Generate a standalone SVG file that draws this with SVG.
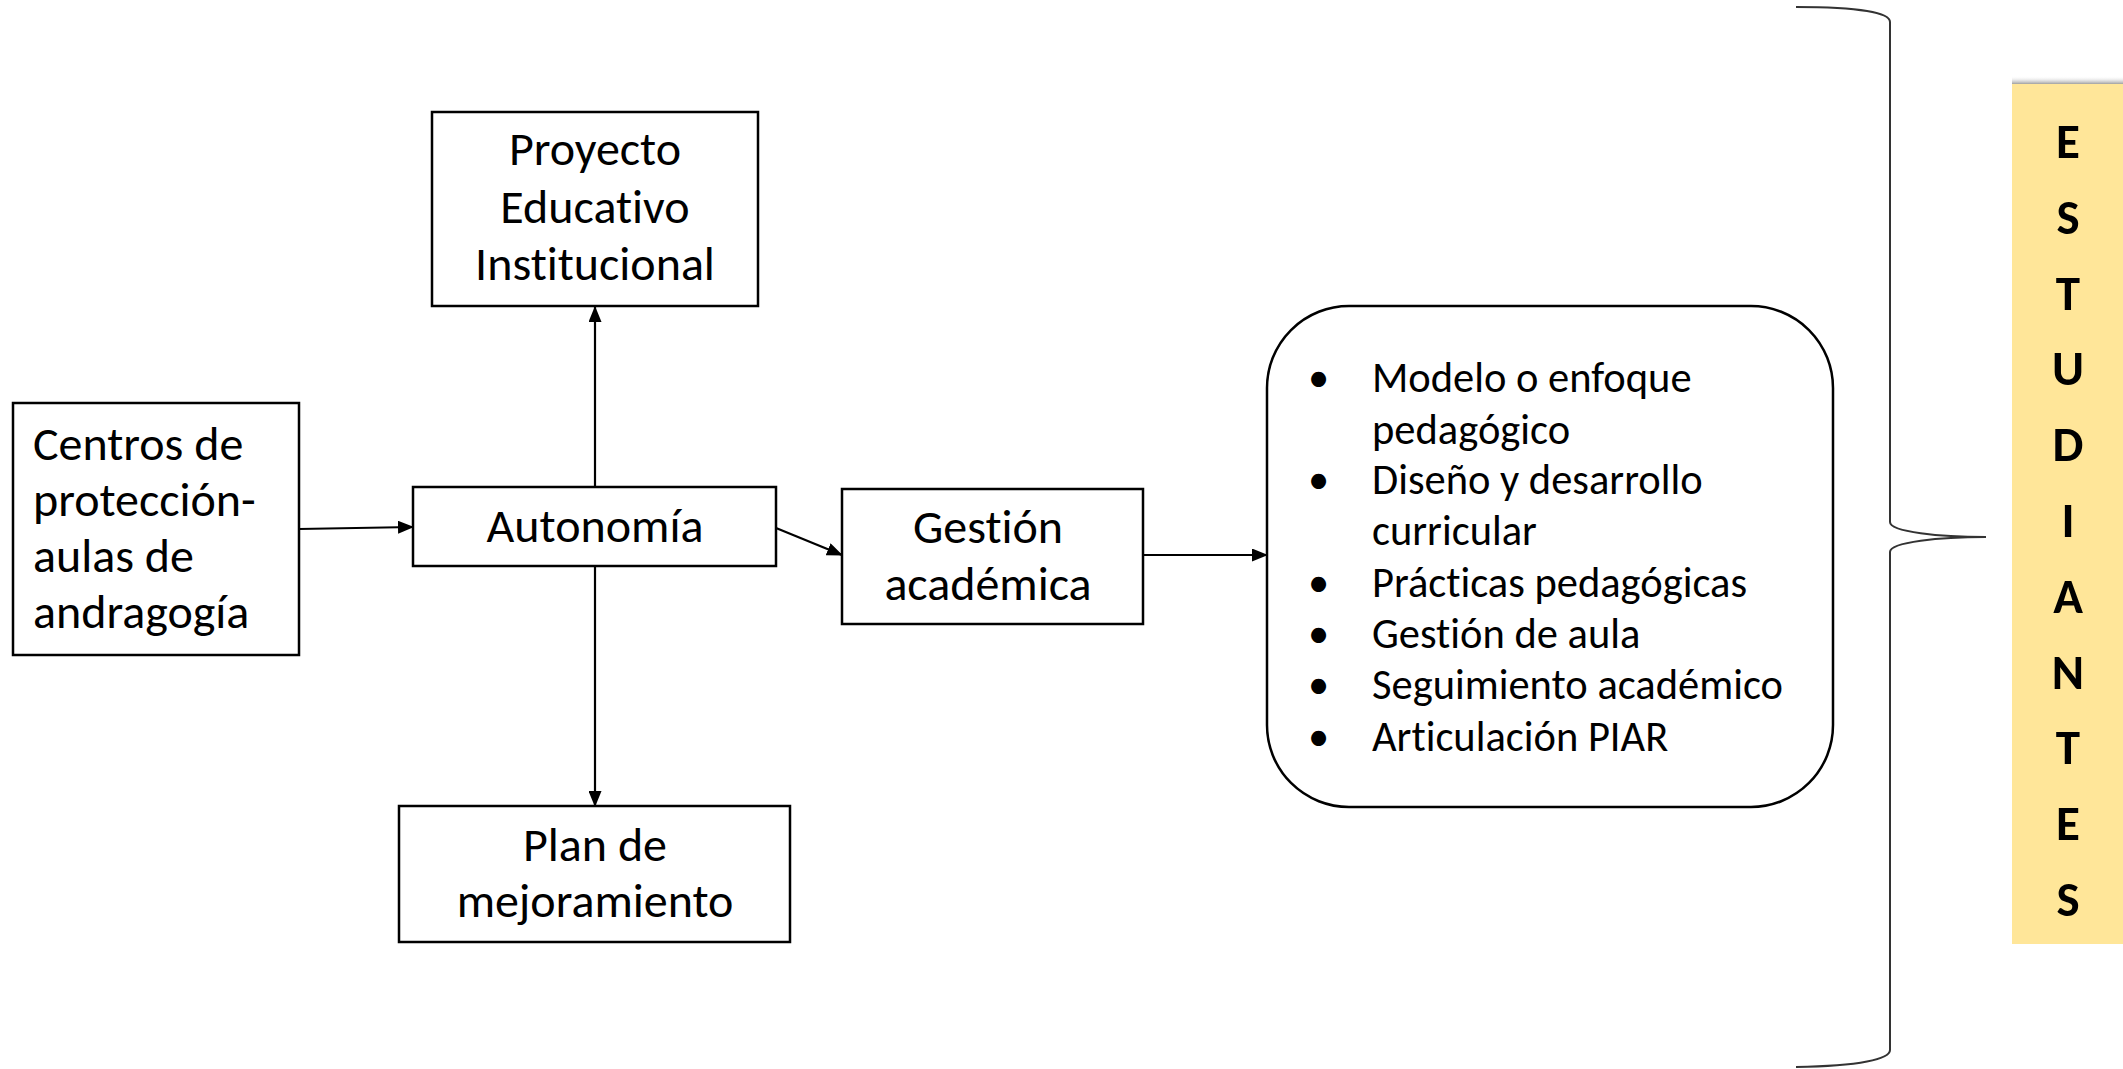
<svg xmlns="http://www.w3.org/2000/svg" width="2123" height="1069" viewBox="0 0 2123 1069">
<style>
text{font-variant-ligatures:none;font-feature-settings:"liga" 0}
.box{fill:#fff;stroke:#000;stroke-width:2.5}
.t{font-family:Carlito,Lato,"Liberation Sans",sans-serif;font-size:48px;fill:#000}
.c{text-anchor:middle}
.li{font-family:Carlito,Lato,"Liberation Sans",sans-serif;font-size:42.5px;fill:#000}
.v{font-family:Carlito,Lato,"Liberation Sans",sans-serif;font-size:49px;font-weight:900;fill:#000;text-anchor:middle}
.con{stroke:#000;stroke-width:2.2;fill:none;marker-end:url(#ah)}
.brace{stroke:#333;stroke-width:2;fill:none}
</style>
<defs>
<marker id="ah" markerUnits="userSpaceOnUse" markerWidth="16" markerHeight="13" refX="15" refY="6.5" orient="auto">
<path d="M0,0 L16,6.5 L0,13 Z" fill="#000"/>
</marker>
<linearGradient id="sh" x1="0" y1="0" x2="0" y2="1">
<stop offset="0" stop-color="#fff" stop-opacity="0"/>
<stop offset="1" stop-color="#888" stop-opacity="0.8"/>
</linearGradient>
</defs>

<g id="connectors">
<line class="con" x1="299" y1="529" x2="413" y2="527"/>
<line class="con" x1="595" y1="487" x2="595" y2="307"/>
<line class="con" x1="595" y1="566" x2="595" y2="806"/>
<line class="con" x1="776" y1="528" x2="842" y2="555"/>
<line class="con" x1="1143" y1="555" x2="1267" y2="555"/>
</g>

<g id="centros">
<rect class="box" x="13" y="403" width="286" height="252"/>
<text class="t" x="33" y="460">Centros de</text>
<text class="t" x="33" y="516">protección-</text>
<text class="t" x="33" y="572">aulas de</text>
<text class="t" x="33" y="628">andragogía</text>
</g>

<g id="proyecto">
<rect class="box" x="432" y="112" width="326" height="194"/>
<text class="t c" x="595" y="165">Proyecto</text>
<text class="t c" x="595" y="223">Educativo</text>
<text class="t c" x="595" y="280">Institucional</text>
</g>

<g id="autonomia">
<rect class="box" x="413" y="487" width="363" height="79"/>
<text class="t c" x="595" y="542">Autonomía</text>
</g>

<g id="gestion">
<rect class="box" x="842" y="489" width="301" height="135"/>
<text class="t c" x="988" y="543">Gestión</text>
<text class="t c" x="988" y="600">académica</text>
</g>

<g id="plan">
<rect class="box" x="399" y="806" width="391" height="136"/>
<text class="t c" x="595" y="861">Plan de</text>
<text class="t c" x="595" y="917">mejoramiento</text>
</g>

<g id="lista">
<rect class="box" x="1267" y="306" width="566" height="501" rx="82" ry="82"/>
<g class="li">
<text x="1308" y="392">•</text><text x="1372" y="392">Modelo o enfoque</text>
<text x="1372" y="444">pedagógico</text>
<text x="1308" y="494">•</text><text x="1372" y="494">Diseño y desarrollo</text>
<text x="1372" y="545">curricular</text>
<text x="1308" y="597">•</text><text x="1372" y="597">Prácticas pedagógicas</text>
<text x="1308" y="648">•</text><text x="1372" y="648">Gestión de aula</text>
<text x="1308" y="699">•</text><text x="1372" y="699">Seguimiento académico</text>
<text x="1308" y="751">•</text><text x="1372" y="751">Articulación PIAR</text>
</g>
</g>

<g id="llave">
<path class="brace" d="M1796,7 C1860,7 1890,13 1890,22 L1890,522 C1890,532 1940,537 1986,537 C1940,537 1890,542 1890,552 L1890,1050 C1890,1059 1860,1066 1796,1067"/>
</g>

<g id="estudiantes">
<rect x="2012" y="76" width="111" height="8" fill="url(#sh)"/>
<rect x="2012" y="84" width="111" height="860" fill="#FFE699"/>
<text class="v" x="2068" y="158">E</text>
<text class="v" x="2068" y="234">S</text>
<text class="v" x="2068" y="310">T</text>
<text class="v" x="2068" y="385">U</text>
<text class="v" x="2068" y="461">D</text>
<text class="v" x="2068" y="537">I</text>
<text class="v" x="2068" y="613">A</text>
<text class="v" x="2068" y="689">N</text>
<text class="v" x="2068" y="764">T</text>
<text class="v" x="2068" y="840">E</text>
<text class="v" x="2068" y="916">S</text>
</g>
</svg>
